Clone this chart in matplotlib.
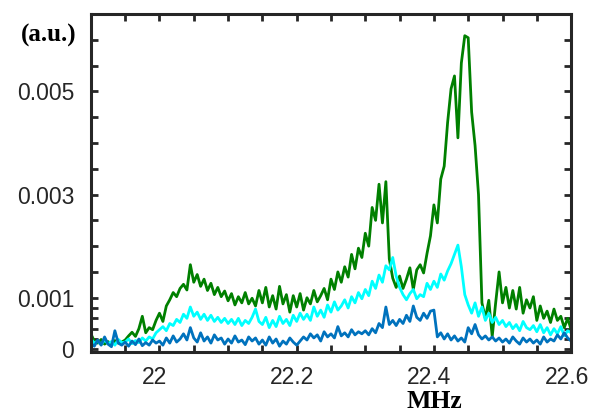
import numpy as np
import matplotlib
matplotlib.use("Agg")
import matplotlib.pyplot as plt
from matplotlib.ticker import FixedLocator
from matplotlib.transforms import ScaledTranslation

# Frequency grid (MHz), 0.005 MHz steps
freq_start, freq_step = 21.9, 0.005

# Spectra in units of 1e-4 a.u.
green = [
    3.0, 1.6, 1.2, 1.9, 1.0, 1.5, 0.9, 1.7, 1.2, 1.4,
    1.8, 2.6, 3.3, 2.5, 4.0, 6.4, 3.2, 4.2, 3.8, 5.6,
    7.0, 5.4, 8.4, 9.6, 11.0, 10.2, 11.8, 12.6, 11.5, 16.4,
    13.0, 14.5, 12.2, 13.6, 11.4, 12.8, 10.6, 12.0, 10.2, 11.3,
    9.4, 10.8, 8.6, 10.2, 9.0, 11.0, 8.8, 9.9, 8.4, 11.4,
    9.0, 12.0, 8.2, 10.4, 7.8, 12.2, 8.8, 10.6, 7.2, 10.4,
    8.2, 10.8, 7.6, 10.0, 8.8, 11.4, 9.2, 10.4, 11.8, 9.6,
    13.6, 11.6, 15.0, 13.0, 16.0, 14.0, 18.4, 15.6, 19.6, 17.8,
    22.5, 20.0, 27.5, 25.0, 32.0, 24.5, 32.5, 17.5, 13.8, 12.0,
    14.2, 11.8, 13.6, 15.8, 11.6, 15.4, 16.4, 14.8, 18.6, 22.0,
    28.0, 24.5, 33.0, 35.5, 44.0, 50.5, 53.0, 41.0, 55.5, 60.8,
    60.4, 46.0, 39.5, 30.0, 9.0, 6.0, 9.5, 2.5, 9.0, 15.0,
    9.0, 12.0, 8.0, 11.4, 7.8, 12.0, 7.0, 9.6, 8.0, 10.2,
    5.6, 8.4, 6.0, 7.4, 5.2, 7.8, 5.6, 6.4, 4.2, 6.0, 3.8,
]

cyan = [
    2.0, 1.2, 1.6, 0.9, 1.8, 1.1, 1.5, 0.8, 1.9, 1.3,
    1.4, 2.0, 1.1, 1.7, 1.3, 2.2, 1.6, 2.4, 2.0, 3.2,
    3.8, 4.4, 3.6, 5.0, 4.6, 5.8, 5.2, 6.8, 6.0, 8.2,
    6.4, 7.2, 5.8, 6.8, 5.6, 6.6, 5.4, 6.2, 5.2, 6.0,
    5.0, 5.8, 4.8, 6.0, 4.6, 5.6, 5.0, 6.2, 7.8, 5.4,
    4.8, 6.2, 4.2, 5.6, 4.4, 6.4, 5.0, 5.8, 4.6, 6.6,
    5.4, 7.0, 5.8, 6.8, 5.6, 8.2, 6.4, 7.6, 6.2, 8.6,
    7.2, 9.2, 7.6, 8.4, 9.6, 8.0, 10.2, 9.0, 11.0, 9.8,
    11.6, 10.4, 13.2, 11.8, 14.4, 13.0, 16.2, 15.4, 17.8, 14.2,
    12.0, 10.6, 9.6, 10.8, 11.6, 9.8, 10.6, 10.2, 12.8, 11.6,
    13.2, 12.0, 14.6, 13.4, 15.2, 16.6, 18.4, 20.2, 16.0, 10.6,
    8.6, 7.0, 9.0, 6.4, 8.2, 5.6, 7.0, 5.2, 6.2, 4.8,
    5.6, 4.4, 5.2, 4.0, 4.8, 3.6, 5.4, 4.2, 3.8, 4.6,
    3.4, 4.8, 3.2, 4.2, 2.8, 4.0, 3.0, 4.4, 2.6, 3.6, 3.2,
]

blue = [
    1.2, 0.6, 1.8, 0.8, 2.4, 1.0, 0.5, 3.6, 1.2, 0.8,
    1.4, 0.6, 1.6, 0.9, 2.0, 0.7, 1.3, 0.8, 1.8, 1.2,
    1.6, 0.8, 2.2, 1.2, 2.6, 1.4, 2.0, 3.0, 1.8, 4.2,
    2.2, 1.4, 3.2, 1.6, 2.4, 1.2, 2.8, 1.8, 2.2, 1.0,
    2.0, 1.2, 2.6, 1.4, 1.8, 0.9, 2.4, 1.6, 2.2, 1.0,
    1.8, 0.8, 2.4, 1.2, 2.0, 0.6, 1.6, 1.0, 2.2, 1.4,
    0.8, 1.6, 2.4, 1.8, 3.0, 2.2, 2.8, 1.6, 3.4, 2.4,
    3.0, 2.2, 4.4, 2.6, 3.2, 2.4, 3.8, 2.8, 3.4, 3.0,
    3.6, 2.8, 4.0, 3.2, 5.0, 4.2, 8.2, 4.8, 5.6, 4.6,
    5.8, 5.0, 6.6, 5.4, 8.4, 6.2, 5.6, 7.0, 6.0, 7.4,
    7.6, 2.4, 3.2, 2.0, 3.0, 1.8, 2.6, 1.6, 2.2, 1.4,
    4.2, 3.0, 4.8, 2.8, 2.0, 2.6, 1.8, 2.4, 1.6, 2.2,
    1.4, 2.0, 1.2, 2.4, 1.6, 1.0, 2.2, 1.4, 2.0, 1.2,
    1.8, 1.0, 2.4, 1.4, 2.0, 1.6, 2.8, 2.0, 3.2, 2.2, 1.6,
]

xticks = [22.0, 22.2, 22.4, 22.6]
xtick_labels = ["22", "22.2", "22.4", "22.6"]
xminor = [21.95, 22.05, 22.1, 22.15, 22.25, 22.3, 22.35, 22.45, 22.5, 22.55]
yticks = [0.0, 0.001, 0.003, 0.005]
ytick_labels = ["0", "0.001", "0.003", "0.005"]
yminor = [0.0002, 0.0004, 0.0006, 0.0008, 0.0015, 0.002, 0.0025,
          0.0035, 0.004, 0.0045, 0.0055, 0.006]

scale = 1e-4
n = len(green)
freq = freq_start + freq_step * np.arange(n)

axis_color = "#262626"
plt.rcParams["font.family"] = ["Liberation Sans", "DejaVu Sans"]

fig = plt.figure(figsize=(5.9, 4.13), dpi=100)
ax = fig.add_axes([0.154, 0.148, 0.814, 0.818])

ax.plot(freq, np.array(green) * scale, color="#008000", lw=2.0)
ax.plot(freq, np.array(cyan) * scale, color="#00FFFF", lw=2.0)
ax.plot(freq, np.array(blue) * scale, color="#0072BD", lw=2.0)

ax.set_xlim(21.9, 22.6)
ax.set_ylim(-0.00005, 0.0065)

ax.set_xticks(xticks)
ax.set_xticklabels(xtick_labels)
ax.xaxis.set_minor_locator(FixedLocator(xminor))
ax.set_yticks(yticks)
ax.set_yticklabels(ytick_labels)
ax.yaxis.set_minor_locator(FixedLocator(yminor))

for side in ax.spines.values():
    side.set_linewidth(2.2)
    side.set_color(axis_color)

ax.tick_params(which="both", direction="in", top=True, right=True,
               color=axis_color, width=2.0, length=5)
ax.tick_params(which="major", labelsize=16.5, labelcolor=axis_color)
ax.tick_params(axis="y", which="major", pad=12)
ax.tick_params(axis="x", which="major", pad=10)

# nudge the frequency labels slightly left of their ticks
shift = ScaledTranslation(-0.045, 0, fig.dpi_scale_trans)
for lab in ax.get_xticklabels():
    lab.set_transform(lab.get_transform() + shift)

fig.text(0.083, 0.913, "(a.u.)", family="Liberation Serif", weight="bold",
         fontsize=18, ha="center", va="center", color="black")
fig.text(0.737, 0.0, "MHz", family="Liberation Serif", weight="bold",
         fontsize=18.5, ha="center", va="bottom", color="black")

fig.savefig("out.png", dpi=100)
